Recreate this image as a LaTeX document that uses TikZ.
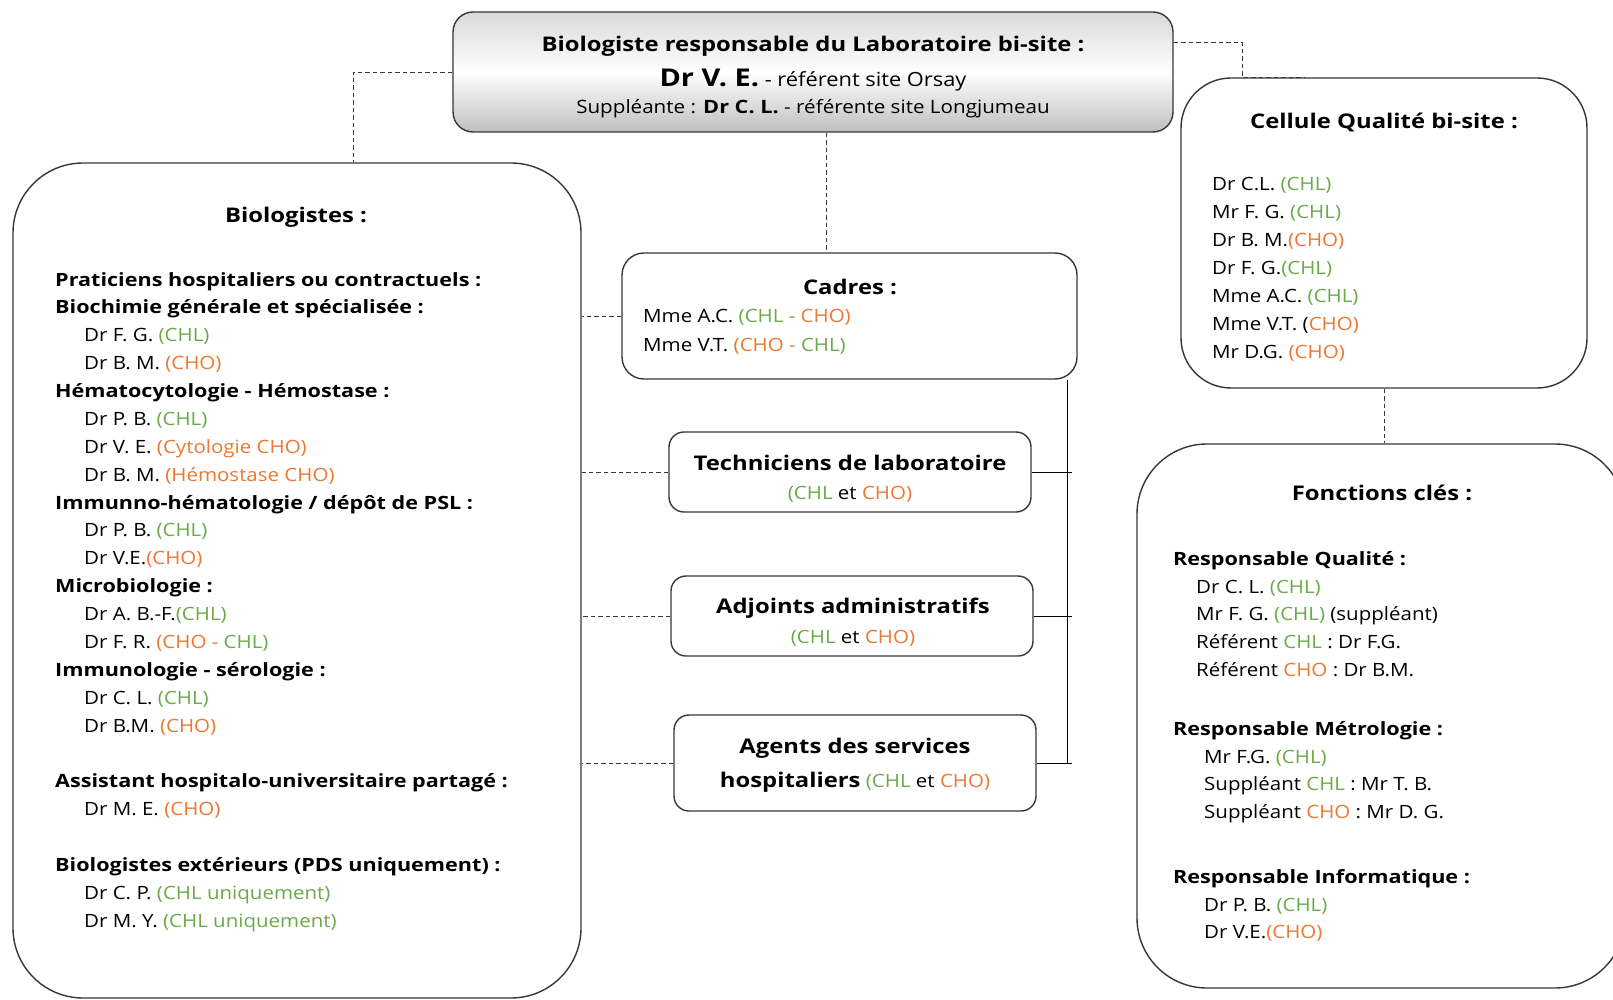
\documentclass[tikz,border=0pt]{standalone}
\usepackage{fontspec}
\setmainfont{Open Sans}[FakeStretch=1.12, BoldFeatures={FakeStretch=1.18}]
\usetikzlibrary{calc}
\definecolor{chl}{RGB}{106,170,72}
\definecolor{cho}{RGB}{237,120,50}
\definecolor{edge}{RGB}{55,55,55}
\newcommand\cgr[1]{\textcolor{chl}{#1}}
\newcommand\cor[1]{\textcolor{cho}{#1}}
\newcommand\ind{\hspace*{29pt}}
\begin{document}
\begin{tikzpicture}[x=1pt,y=-1pt,
  box/.style={draw=edge, line width=1.4pt, rectangle, inner sep=0pt},
  dashline/.style={draw=edge, line width=0.9pt, dash pattern=on 4.5pt off 3pt},
  solidline/.style={draw=black, line width=1pt},
  txt/.style={inner sep=0pt, align=left, anchor=north west},
  ctr/.style={inner sep=0pt, align=center},
  listfont/.style={font=\fontsize{18.3}{27.87}\selectfont},
  headfont/.style={font=\fontsize{20.2}{24}\selectfont\bfseries}]
\clip (0,0) rectangle (1613,1000);
\fill[white] (0,0) rectangle (1613,1000);

% boxes
\node[box, minimum width=720, minimum height=120, rounded corners=20,
  top color=gray!30, bottom color=gray!50, middle color=white] (top) at (813,72) {};
\node[box, minimum width=568, minimum height=835, rounded corners=70] (bio) at (297,580.5) {};
\node[box, minimum width=406, minimum height=310, rounded corners=50] (cel) at (1384,233) {};
\node[box, minimum width=488, minimum height=544, rounded corners=70] (fon) at (1381,716) {};
\node[box, minimum width=455, minimum height=126, rounded corners=22] (cad) at (849.5,316) {};
\node[box, minimum width=362, minimum height=80, rounded corners=15] (tech) at (850,472) {};
\node[box, minimum width=362, minimum height=80, rounded corners=15] (adj) at (852,616) {};
\node[box, minimum width=362, minimum height=96, rounded corners=15] (ag) at (855,763) {};

% top box text
\node[ctr, headfont] (t1) at (813,46) {Biologiste responsable du Laboratoire bi-site :};
\node[ctr, font=\fontsize{19.5}{22}\selectfont] (t2) at (813,80) {{\fontsize{24.5}{26}\selectfont\bfseries Dr V. E.} - référent site Orsay};
\node[ctr, font=\fontsize{18.4}{20}\selectfont] (t3) at (813,109) {Suppléante : \textbf{Dr C. L.} - référente site Longjumeau};

% Biologistes
\node[ctr, headfont] (bioh) at (296,217) {Biologistes :};
\node[txt, listfont] (biol) at (55,272) {%
\textbf{Praticiens hospitaliers ou contractuels :}\\
\textbf{Biochimie générale et spécialisée :}\\
\ind Dr F. G. \cgr{(CHL)}\\
\ind Dr B. M. \cor{(CHO)}\\
\textbf{Hématocytologie - Hémostase :}\\
\ind Dr P. B. \cgr{(CHL)}\\
\ind Dr V. E. \cor{(Cytologie CHO)}\\
\ind Dr B. M. \cor{(Hémostase CHO)}\\
\textbf{Immunno-hématologie / dépôt de PSL :}\\
\ind Dr P. B. \cgr{(CHL)}\\
\ind Dr V.E.\cor{(CHO)}\\
\textbf{Microbiologie :}\\
\ind Dr A. B.-F.\cgr{(CHL)}\\
\ind Dr F. R. \cor{(CHO -} \cgr{CHL)}\\
\textbf{Immunologie - sérologie :}\\
\ind Dr C. L. \cgr{(CHL)}\\
\ind Dr B.M. \cor{(CHO)}\\[27.87pt]
\textbf{Assistant hospitalo-universitaire partagé :}\\
\ind Dr M. E. \cor{(CHO)}\\[27.87pt]
\textbf{Biologistes extérieurs (PDS uniquement) :}\\
\ind Dr C. P. \cgr{(CHL uniquement)}\\
\ind Dr M. Y. \cgr{(CHL uniquement)}};

% Cellule qualite
\node[ctr, headfont] (celh) at (1384,122) {Cellule Qualité bi-site :};
\node[txt, font=\fontsize{18.3}{27.95}\selectfont] (cell) at (1212,177) {%
Dr C.L. \cgr{(CHL)}\\
Mr F. G. \cgr{(CHL)}\\
Dr B. M.\cor{(CHO)}\\
Dr F. G.\cgr{(CHL)}\\
Mme A.C. \cgr{(CHL)}\\
Mme V.T. (\cor{CHO)}\\
Mr D.G. \cor{(CHO)}};

% Cadres
\node[ctr, headfont] (cadh) at (850,287) {Cadres :};
\node[txt, font=\fontsize{18.3}{28.8}\selectfont] (cadl) at (643,309) {%
Mme A.C. \cgr{(CHL -} \cor{CHO)}\\
Mme V.T. \cor{(CHO -} \cgr{CHL)}};

% Techniciens
\node[ctr, headfont] (techh) at (850,463) {Techniciens de laboratoire};
\node[ctr, font=\fontsize{18.3}{20}\selectfont] (techl) at (850,494) {\cgr{(CHL} et \cor{CHO)}};
% Adjoints
\node[ctr, headfont] (adjh) at (853,608) {Adjoints administratifs};
\node[ctr, font=\fontsize{18.3}{20}\selectfont] (adjl) at (853,638) {\cgr{(CHL} et \cor{CHO)}};
% Agents
\node[ctr, headfont] (agh) at (855,748) {Agents des services};
\node[ctr, font=\fontsize{18.3}{20}\selectfont] (agl) at (855,782) {{\fontsize{20.2}{24}\selectfont\bfseries hospitaliers} \cgr{(CHL} et \cor{CHO)}};

% Fonctions cles
\node[ctr, headfont] (fonh) at (1382,493) {Fonctions clés :};
\node[txt, font=\fontsize{18.3}{27.8}\selectfont] (fq) at (1173,551) {%
\textbf{Responsable Qualité :}\\
\hspace*{23pt}Dr C. L. \cgr{(CHL)}\\
\hspace*{23pt}Mr F. G. \cgr{(CHL)} (suppléant)\\
\hspace*{23pt}Référent \cgr{CHL} : Dr F.G.\\
\hspace*{23pt}Référent \cor{CHO} : Dr B.M.};
\node[txt, font=\fontsize{18.3}{27.8}\selectfont] (fm) at (1173,721) {%
\textbf{Responsable Métrologie :}\\
\hspace*{31pt}Mr F.G. \cgr{(CHL)}\\
\hspace*{31pt}Suppléant \cgr{CHL} : Mr T. B.\\
\hspace*{31pt}Suppléant \cor{CHO} : Mr D. G.};
\node[txt, font=\fontsize{18.3}{27.8}\selectfont] (fi) at (1173,869) {%
\textbf{Responsable Informatique :}\\
\hspace*{31pt}Dr P. B. \cgr{(CHL)}\\
\hspace*{31pt}Dr V.E.\cor{(CHO)}};

% dashed connectors
\draw[dashline] (top.west) -| ($(bio.north)+(56,0)$);
\draw[dashline] ($(top.north east)+(0,31)$) -| ($(cel.north west)+(62,0)$) -- ++(63,0);
\draw[dashline] ($(top.south)+(13,0)$) coordinate (tb) -- (tb |- cad.north);
\draw[dashline] (cel.south) -- (cel.south |- fon.north);
\draw[dashline] (cad.west) -- (cad.west -| bio.east);
\draw[dashline] (tech.west) -- (tech.west -| bio.east);
\draw[dashline] (adj.west) -- (adj.west -| bio.east);
\draw[dashline] (ag.west) -- (ag.west -| bio.east);

% solid connectors
\coordinate (bus) at ($(cad.south east)+(-10,0)$);
\draw[solidline] (bus) -- (bus |- ag.east);
\draw[solidline] (tech.east) -- ($(tech.east -| bus)+(4,0)$);
\draw[solidline] (adj.east) -- ($(adj.east -| bus)+(4,0)$);
\draw[solidline] (ag.east) -- ($(ag.east -| bus)+(4,0)$);
\end{tikzpicture}
\end{document}
